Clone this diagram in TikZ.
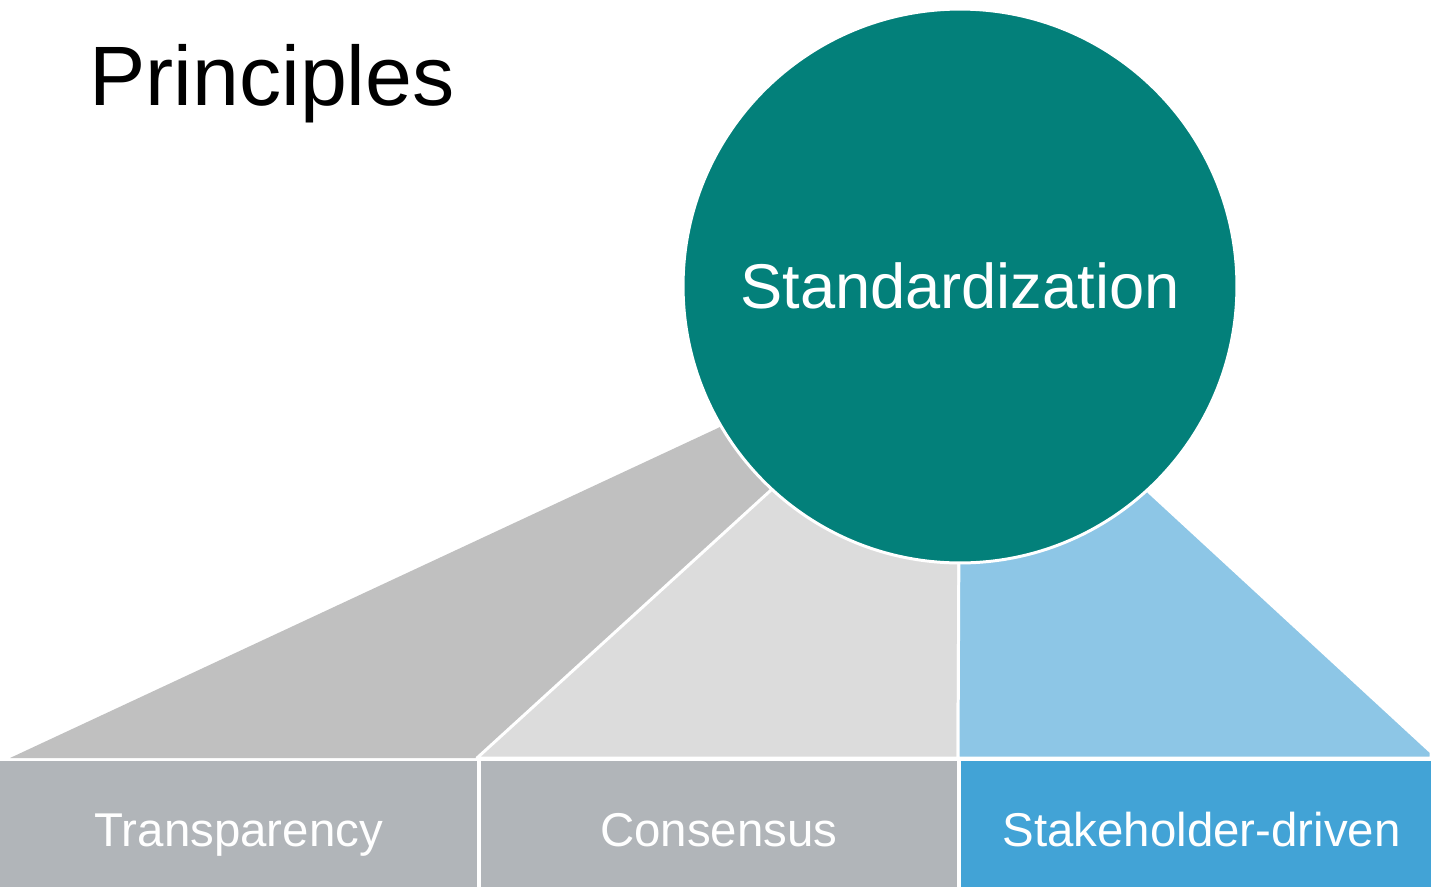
\documentclass[tikz,border=0pt]{standalone}
\usepackage{fontspec}
\setmainfont{Liberation Sans}
\usetikzlibrary{positioning}
\definecolor{teal}{RGB}{3,128,122}
\definecolor{fangray}{RGB}{192,192,192}
\definecolor{fanlight}{RGB}{220,220,220}
\definecolor{fanblue}{RGB}{141,198,230}
\definecolor{boxgray}{RGB}{177,181,185}
\definecolor{boxblue}{RGB}{66,163,214}
\tikzstyle{pillar} = [rectangle, minimum height=2.52cm, inner sep=0pt, text=white, text height=26pt, text depth=0pt, font=\fontsize{27pt}{32pt}\selectfont]
\tikzstyle{fan} = [draw=white, line width=1.7pt, line join=round]
\tikzstyle{hub} = [circle, minimum size=11.08cm, inner sep=0pt, fill=teal, draw=white, line width=1.7pt, text=white, font=\fontsize{36pt}{42pt}\selectfont]

\begin{document}
\begin{tikzpicture}[x=0.02cm, y=-0.02cm]
 \useasboundingbox (0,0) rectangle (1431,887);

 \node (title) [anchor=base west, font=\fontsize{48pt}{56pt}\selectfont] at (83,105) {Principles};

 % fans under the circle
 \fill[fangray] (10,758) -- (718,428) -- (960,288) -- (770,491) -- (477,758) -- cycle;
 \draw[fan, fill=fanlight] (477,758) -- (770,491) -- (960,288) -- (958,758) -- cycle;
 \draw[fan, fill=fanblue] (958,758) -- (960,288) -- (1150,493) -- (1431,752) -- (1431,758) -- cycle;

 \node (std) [hub] at (960,286) {Standardization};

 % bottom row
 \node (trans) [pillar, fill=boxgray, minimum width=9.54cm, anchor=south west] at (0,887) {Transparency};
 \node (cons) [pillar, fill=boxgray, minimum width=9.52cm, right=0.06cm of trans] {Consensus};
 \node (stake) [pillar, fill=boxblue, minimum width=9.44cm, right=0.06cm of cons] {\hspace*{0.2cm}Stakeholder-driven};
\end{tikzpicture}
\end{document}
